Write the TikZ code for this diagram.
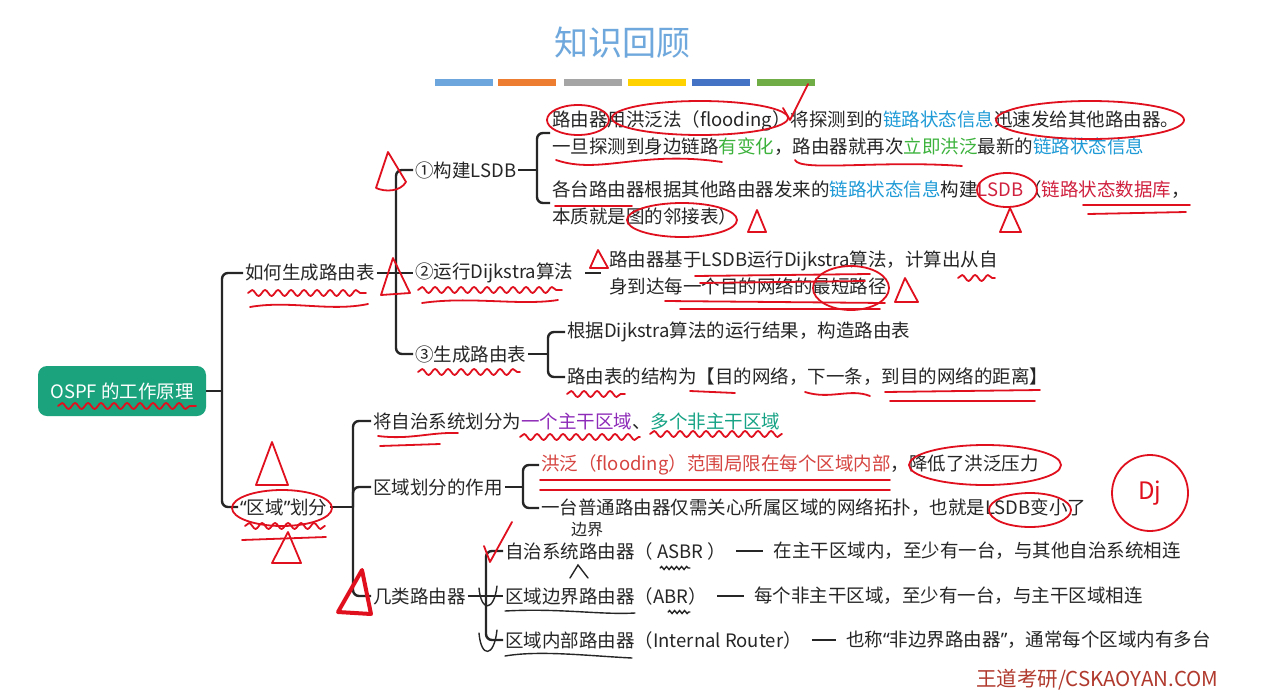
\documentclass[tikz,border=0pt]{standalone}
\usepackage{fontspec}
\setmainfont{Noto Sans CJK SC}
\newfontfamily\latinfont{Noto Sans}
\usetikzlibrary{positioning,decorations.pathmorphing}
\definecolor{titleblue}{HTML}{6FA8DC}
\definecolor{rootgreen}{HTML}{1AA37D}
\definecolor{infoblue}{HTML}{1E9AD6}
\definecolor{okgreen}{HTML}{3DB33D}
\definecolor{dbred}{HTML}{D0213F}
\definecolor{mainpurple}{HTML}{8E2BB8}
\definecolor{subteal}{HTML}{17A385}
\definecolor{floodred}{HTML}{D64541}
\definecolor{penred}{HTML}{E0101E}
\definecolor{markbrown}{HTML}{B03A2E}
\definecolor{barA}{HTML}{6CA6DC}
\definecolor{barB}{HTML}{ED7D31}
\definecolor{barC}{HTML}{A5A5A5}
\definecolor{barD}{HTML}{FFD200}
\definecolor{barE}{HTML}{4472C4}
\definecolor{barF}{HTML}{70AD47}
\newcommand{\hlblue}[1]{\textcolor{infoblue}{#1}}
\newcommand{\hlgreen}[1]{\textcolor{okgreen}{#1}}
\newcommand{\hlred}[1]{\textcolor{dbred}{#1}}
\newcommand{\qopen}{{\latinfont “}}
\newcommand{\qclose}{{\latinfont ”}}
\tikzset{
  topic/.style={anchor=west, inner sep=2pt, text=black!85, font=\fontsize{18.5}{27}\selectfont},
  leaf/.style={topic, align=left},
  rootbox/.style={fill=rootgreen, text=white, rounded corners=9pt, minimum width=168pt, minimum height=50pt, font=\fontsize{18.5}{22}\selectfont},
  link/.style={line width=2.4pt, black!85, rounded corners=6pt},
  dashlink/.style={line width=2.4pt, black!85, shorten <=8pt, shorten >=8pt},
  pen/.style={penred, line width=1.8pt, line cap=round, line join=round},
  wavy/.style={pen, decorate, decoration={snake, amplitude=3pt, segment length=13pt}},
  ink/.style={black!85, line width=1.4pt, line cap=round},
}

\begin{document}
\begin{tikzpicture}[x=1pt, y=-1pt]
  \useasboundingbox (0,0) rectangle (1266,699);
  \fill[white] (0,0) rectangle (1266,699);
  % title and colour bars
  \node[text=titleblue, font=\fontsize{34}{40}\selectfont] (title) at (622,43) {知识回顾};
  \fill[barA] (435,79) rectangle (493,86);
  \fill[barB] (498,79) rectangle (556,86);
  \fill[barC] (564,79) rectangle (622,86);
  \fill[barD] (628,79) rectangle (686,86);
  \fill[barE] (692,79) rectangle (750,86);
  \fill[barF] (757,79) rectangle (815,86);

  % root and main topics
  \node[rootbox] (root) at (122,391) {OSPF 的工作原理};
  \node[topic] (howto) at (243,273) {如何生成路由表};
  \node[topic] (area) at (238,507) {\qopen 区域\qclose 划分};
  \coordinate (trunk) at (222,391);
  \draw[link] (root.east) -- (trunk);
  \draw[link] (trunk) |- (howto.west);
  \draw[link] (trunk) |- (area.west);

  % how the routing table is built
  \node[topic] (lsdb) at (413,170) {①构建LSDB};
  \node[topic] (dij) at (413,273) {②运行Dijkstra算法};
  \node[topic] (rtab) at (413,354) {③生成路由表};
  \coordinate (spineA) at (396,273);
  \draw[link] (howto.east) -- (spineA);
  \draw[link] (spineA) |- (lsdb.west);
  \draw[link] (spineA) -- (dij.west);
  \draw[link] (spineA) |- (rtab.west);

  \node[leaf] (flood) at (550,133) {路由器用洪泛法（flooding）将探测到的\hlblue{链路状态信息}迅速发给其他路由器。\\
    一旦探测到身边链路\hlgreen{有变化}，路由器就再次\hlgreen{立即洪泛}最新的\hlblue{链路状态信息}};
  \node[leaf] (build) at (550,203) {各台路由器根据其他路由器发来的\hlblue{链路状态信息}构建\hlred{LSDB}（\hlred{链路状态数据库}，\\
    本质就是图的邻接表）};
  \coordinate (spineB) at (537,170);
  \draw[link] (lsdb.east) -- (spineB);
  \draw[link] (spineB) |- (flood.west);
  \draw[link] (spineB) |- (build.west);

  \node[leaf] (path) at (607,273) {路由器基于LSDB运行Dijkstra算法，计算出从自\\身到达每一个目的网络的最短路径};
  \draw[link, shorten <=10pt, shorten >=6pt] (dij.east) -- (path.west);

  \node[topic] (result) at (565,332) {根据Dijkstra算法的运行结果，构造路由表};
  \node[topic] (fields) at (565,377) {路由表的结构为【目的网络，下一条，到目的网络的距离】};
  \coordinate (spineC) at (548,354);
  \draw[link] (rtab.east) -- (spineC);
  \draw[link] (spineC) |- (result.west);
  \draw[link] (spineC) |- (fields.west);

  % area division
  \node[topic] (split) at (371,421) {将自治系统划分为\textcolor{mainpurple}{一个主干区域}、\textcolor{subteal}{多个非主干区域}};
  \node[topic] (role) at (371,487) {区域划分的作用};
  \node[topic] (kinds) at (371,596) {几类路由器};
  \coordinate (spineD) at (353,507);
  \draw[link] (area.east) -- (spineD);
  \draw[link] (spineD) |- (split.west);
  \draw[link] (spineD) |- (role.west);
  \draw[link] (spineD) |- (kinds.west);

  \node[topic] (limit) at (539,465) {\textcolor{floodred}{洪泛（flooding）范围局限在每个区域内部}，降低了洪泛压力};
  \node[topic] (small) at (539,508) {一台普通路由器仅需关心所属区域的网络拓扑，也就是LSDB变小了};
  \coordinate (spineE) at (523,487);
  \draw[link] (role.east) -- (spineE);
  \draw[link] (spineE) |- (limit.west);
  \draw[link] (spineE) |- (small.west);

  \node[topic] (asbr) at (503,551) {自治系统路由器（ ASBR ）};
  \node[topic] (abr) at (503,596) {区域边界路由器（ABR）};
  \node[topic] (intr) at (503,640) {区域内部路由器（Internal Router）};
  \coordinate (spineF) at (486,596);
  \draw[link] (kinds.east) -- (spineF);
  \draw[link] (spineF) |- (asbr.west);
  \draw[link] (spineF) -- (abr.west);
  \draw[link] (spineF) |- (intr.west);

  \node[topic, right=43pt of asbr] (asbrd) {在主干区域内，至少有一台，与其他自治系统相连};
  \node[topic, right=43pt of abr] (abrd) {每个非主干区域，至少有一台，与主干区域相连};
  \node[topic, right=40pt of intr] (intrd) {也称\qopen 非边界路由器\qclose ，通常每个区域内有多台};
  \draw[dashlink] (asbr.east) -- (asbrd.west);
  \draw[dashlink] (abr.east) -- (abrd.west);
  \draw[dashlink] (intr.east) -- (intrd.west);

  \node[anchor=east, text=markbrown, font=\fontsize{20.5}{24}\selectfont] (mark) at (1222,680) {王道考研/CSKAOYAN.COM};

  % hand-written marks
  \draw[pen] (578,120) ellipse [x radius=31pt, y radius=15pt];
  \draw[pen] (700,118) ellipse [x radius=88pt, y radius=17pt];
  \draw[pen] (783,108) -- (790,120) -- (808,84);
  \draw[pen] (1090,120) ellipse [x radius=94pt, y radius=19pt];
  \draw[pen] (556,160) .. controls (600,175) and (640,150) .. (722,162);
  \draw[pen] (795,160) .. controls (800,172) and (880,160) .. (962,166);
  \draw[pen] (555,206) -- (632,206);
  \draw[pen] (1007,190) ellipse [x radius=30pt, y radius=17pt];
  \draw[pen] (1010,208) -- (1000,232) -- (1021,232) -- cycle;
  \draw[pen] (1083,205) -- (1190,205);
  \draw[pen] (1088,214) -- (1186,212);
  \draw[pen] (682,220) ellipse [x radius=55pt, y radius=17pt];
  \draw[pen] (748,232) -- (757,210) -- (766,232) -- cycle;
  \draw[pen] (376,188) -- (388,152) -- (406,182) .. controls (400,192) and (385,192) .. (376,188);
  \draw[pen] (381,295) -- (393,258) -- (410,293) -- cycle;
  \draw[wavy] (248,293) -- (366,293);
  \draw[pen] (250,307) .. controls (290,300) and (330,312) .. (368,304);
  \draw[wavy] (418,290) -- (562,290);
  \draw[pen] (422,303) .. controls (470,296) and (520,306) .. (558,300);
  \draw[pen] (590,268) -- (598,250) -- (608,268) -- cycle;
  \draw[pen] (695,276) -- (870,274);
  \draw[pen] (700,283) -- (865,281);
  \draw[wavy] (958,278) -- (995,278);
  \draw[pen] (665,301) -- (885,303);
  \draw[pen] (680,309) -- (880,309);
  \draw[pen] (851,288) ellipse [x radius=38pt, y radius=22pt];
  \draw[pen] (895,302) -- (905,278) -- (918,302) -- cycle;
  \draw[wavy] (418,372) -- (520,372);
  \draw[wavy] (567,394) -- (625,394);
  \draw[pen] (690,391) -- (735,393);
  \draw[pen] (805,392) .. controls (830,400) and (850,388) .. (870,396);
  \draw[pen] (885,392) -- (1040,390);
  \draw[pen] (890,401) -- (1035,401);
  \draw[wavy] (58,406) -- (196,406);
  \draw[pen] (378,436) .. controls (410,440) and (430,432) .. (458,433);
  \draw[pen] (380,446) -- (440,444);
  \draw[wavy] (520,437) -- (640,437);
  \draw[wavy] (650,434) -- (782,434);
  \draw[pen] (540,480) -- (890,480);
  \draw[pen] (540,490) -- (890,490);
  \draw[pen] (985,465) ellipse [x radius=76pt, y radius=20pt];
  \draw[pen] (1030,510) ellipse [x radius=41pt, y radius=17pt];
  \draw[pen] (1150,493) circle [radius=38pt];
  \node[text=penred, font=\itshape\fontsize{24}{24}\selectfont] (dj) at (1150,493) {Dj};
  \draw[pen] (282,508) ellipse [x radius=50pt, y radius=18pt];
  \draw[pen] (256,485) -- (272,442) -- (288,485) -- cycle;
  \draw[wavy] (245,526) -- (325,526);
  \draw[pen] (242,540) -- (326,537);
  \draw[pen] (272,563) -- (288,532) -- (301,563) -- cycle;
  \draw[pen, line width=4pt] (338,612) -- (362,570) -- (371,614) -- cycle;
  \draw[pen] (484,546) -- (490,562) -- (512,522);
  \node[text=black!85, font=\fontsize{16}{16}\selectfont] (edge) at (587,530) {边界};
  \draw[ink] (570,578) -- (578,565) -- (588,578);
  \draw[ink, decorate, decoration={snake, amplitude=1.5pt, segment length=5pt}] (660,568) -- (690,568);
  \draw[ink, decorate, decoration={snake, amplitude=1.5pt, segment length=5pt}] (668,612) -- (690,612);
  \draw[ink] (505,611) .. controls (560,608) and (600,615) .. (635,613);
  \draw[ink] (505,656) .. controls (540,650) and (590,656) .. (632,658);
  \draw[ink] (479,588) .. controls (481,612) and (494,612) .. (497,586);
  \draw[ink] (479,633) .. controls (481,658) and (494,658) .. (497,630);
\end{tikzpicture}
\end{document}
